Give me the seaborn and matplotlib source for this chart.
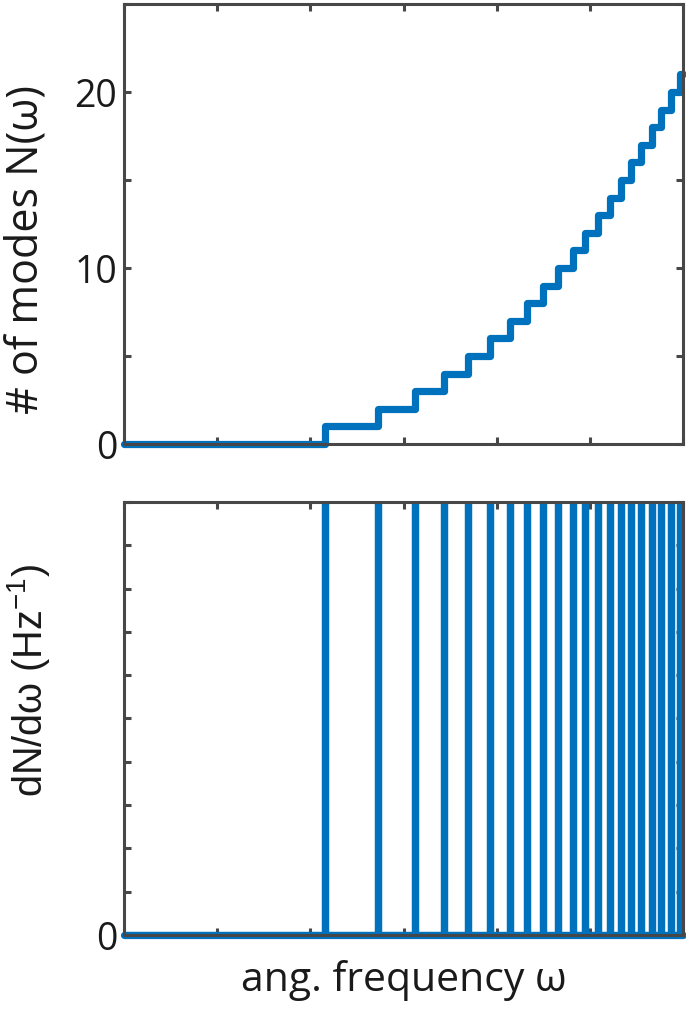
import numpy as np
import pandas as pd
import matplotlib
matplotlib.use("Agg")
import matplotlib.pyplot as plt
import seaborn as sns

# ---- data ----
mode_freqs = [2.159, 2.726, 3.121, 3.438, 3.692, 3.927, 4.138, 4.325, 4.501, 4.662,
              4.814, 4.951, 5.088, 5.213, 5.331, 5.440, 5.553, 5.667, 5.768, 5.874, 5.968]
x_min, x_max = 0.0, 6.0
top_yticks = [0, 5, 10, 15, 20, 25]
top_yticklabels = ["0", "", "10", "", "20", ""]
bottom_yticks = [0.0, 0.1, 0.2, 0.3, 0.4, 0.5, 0.6, 0.7, 0.8, 0.9, 1.0]
bottom_yticklabels = ["0", "", "", "", "", "", "", "", "", "", ""]
spike_height = 1.0
xticks = [0, 1, 2, 3, 4, 5, 6]

# cumulative count path N(w)
sx, sy = [x_min], [0]
for i, f in enumerate(mode_freqs):
    sx += [f, f]
    sy += [i, i + 1]
sx.append(x_max)
sy.append(len(mode_freqs))
stair = pd.DataFrame({"w": sx, "N": sy})

# density path dN/dw (spikes)
dx, dy = [x_min], [0.0]
for f in mode_freqs:
    dx += [f, f, f]
    dy += [0.0, spike_height, 0.0]
dx.append(x_max)
dy.append(0.0)
dens = pd.DataFrame({"w": dx, "D": dy})
base = pd.DataFrame({"w": [x_min, x_max], "D": [0.0, 0.0]})

sns.set_theme(style="white")
plt.rcParams["font.family"] = ["Open Sans", "DejaVu Sans"]
plt.rcParams["mathtext.fontset"] = "custom"
plt.rcParams["mathtext.rm"] = "Liberation Sans"

blue = "#0072BD"
spine_c = "#474747"
text_c = "#1a1a1a"

fig = plt.figure(figsize=(6.86, 10.12), dpi=100)
ax1 = fig.add_axes([0.1808, 0.5603, 0.8149, 0.4348])
ax2 = fig.add_axes([0.1808, 0.0751, 0.8149, 0.4279])

sns.lineplot(data=stair, x="w", y="N", sort=False, estimator=None, ax=ax1,
             color=blue, linewidth=5.2, clip_on=False)
sns.lineplot(data=dens, x="w", y="D", sort=False, estimator=None, ax=ax2,
             color=blue, linewidth=5.2)
sns.lineplot(data=base, x="w", y="D", sort=False, estimator=None, ax=ax2,
             color=blue, linewidth=5.2, clip_on=False)

ax1.set_xlim(x_min, x_max)
ax1.set_ylim(0, 25)
ax2.set_xlim(x_min, x_max)
ax2.set_ylim(0, 1)

for ax in (ax1, ax2):
    for s in ax.spines.values():
        s.set_visible(True)
        s.set_color(spine_c)
        s.set_linewidth(2.2)
    ax.set_xticks(xticks)
    ax.set_xticklabels([])
    ax.tick_params(direction="in", length=5, width=2.2, color=spine_c,
                   top=True, right=True, bottom=True, left=True,
                   labelsize=27, labelcolor=text_c, pad=5)
    ax.set_xlabel("")

ax1.set_yticks(top_yticks)
ax1.set_yticklabels(top_yticklabels)
ax2.set_yticks(bottom_yticks)
ax2.set_yticklabels(bottom_yticklabels)

ax1.set_ylabel("# of modes N(\u03c9)", fontsize=31, color=text_c)
ax1.yaxis.set_label_coords(-0.135, 0.445)
ylab2 = ax2.set_ylabel("dN/d\u03c9 (Hz$^{\\mathregular{-1}}$)", fontsize=28.5, color=text_c)
ylab2.set_fontfamily(["Liberation Sans", "DejaVu Sans"])
ax2.yaxis.set_label_coords(-0.128, 0.59)
ax2.set_xlabel("ang. frequency \u03c9", fontsize=29.5, color=text_c, labelpad=12)

fig.savefig("out.png", dpi=100)
